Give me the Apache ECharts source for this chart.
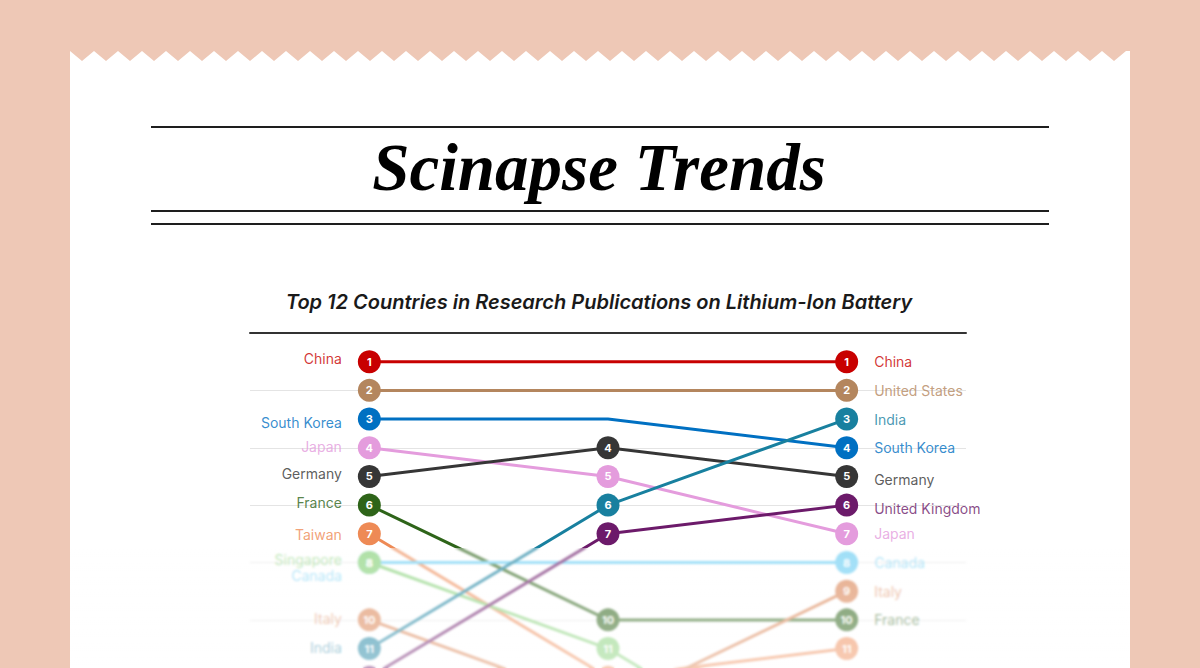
<!DOCTYPE html>
<html><head><meta charset="utf-8">
<script src="https://cdn.jsdelivr.net/npm/echarts@6/dist/echarts.min.js"></script>
<style>
html,body{margin:0;padding:0;width:1200px;height:668px;overflow:hidden;background:#EEC8B6;}
#paper{position:absolute;left:70px;top:51px;width:1060px;height:700px;background:#fff;}
#chart{position:absolute;left:0;top:0;width:1200px;height:900px;}
#fade{position:absolute;left:70px;top:548px;width:1060px;height:120px;
  background:linear-gradient(rgba(255,255,255,0.36),rgba(255,255,255,0.56));
  -webkit-backdrop-filter:blur(1.2px);backdrop-filter:blur(1.2px);}
</style></head>
<body>
<div id="paper"></div>
<div id="chart"></div>
<div id="fade"></div>
<script>
// ---- data ----
const periods = ['Period 1', 'Period 2', 'Period 3'];
const countries = ['China','United States','South Korea','Japan','Germany','France','Taiwan','Canada','Singapore','Italy','India','United Kingdom'];
const rankStart = [1, 2, 3, 4, 5, 6, 7, 8, 8, 10, 11, 12];
const rankMid   = [1, 2, 3, 5, 4, 10, 12, 8, 11, 13, 6, 7];
const rankEnd   = [1, 2, 4, 7, 5, 10, 11, 8, 16, 9, 3, 6];
const rankTicks = [0, 2, 4, 6, 8, 10, 12, 14, 16];

// ---- styles ----
const colors = {
  'China':'#C80000','United States':'#B4865E','South Korea':'#0070C2','Japan':'#E49CDD',
  'Germany':'#363636','France':'#2E6419','Taiwan':'#EE8A55','Canada':'#6ACDF3',
  'Singapore':'#84D076','Italy':'#D9804F','India':'#18809F','United Kingdom':'#6C1A6A'
};
const labelColors = Object.assign({}, colors, {'Germany':'#333333'});
const leftNudge  = {'China':-3,'South Korea':3,'Japan':-1,'Germany':-3,'France':-3,'Taiwan':1,'Singapore':-3,'Canada':13,'Italy':-1,'India':-1};
const rightNudge = {'Germany':3,'United Kingdom':3};
const hideLeftLabel = {'United States':true, 'United Kingdom':true};
const hideRightLabel = {'Taiwan':true, 'Singapore':true};
const lastVisibleRank = 11;

// paper zigzag top edge
(function(){
  const pts = [];
  const w = 1060, p = 24;
  for (let x = 0; x <= w; x += p/2) {
    const peak = Math.round(x / (p/2)) % 2 === 0;
    pts.push(x + 'px ' + (peak ? 0 : 10) + 'px');
  }
  pts.push(w + 'px 0px', w + 'px 100%', '0px 100%');
  document.getElementById('paper').style.clipPath = 'polygon(' + pts.join(',') + ')';
})();

const chart = echarts.init(document.getElementById('chart'), null, {renderer:'svg'});

const series = [];
countries.forEach((c, i) => {
  const col = colors[c];
  const ranks = [rankStart[i], rankMid[i], rankEnd[i]];
  series.push({
    type:'line', name:c, silent:true,
    symbol:'circle', symbolSize:23,
    lineStyle:{color:col, width:3},
    itemStyle:{color:col},
    label:{show:true, position:'inside', color:'#fff', fontSize:11, fontWeight:'bold', fontFamily:'Inter',
           formatter:p => p.value},
    emphasis:{disabled:true},
    data: ranks.map((r, k) => {
      if (k === 1 && rankMid[i] === rankStart[i]) {
        return {value:r, symbol:'none', label:{show:false}};
      }
      if (r > lastVisibleRank) return {value:r, label:{show:false}};
      return {value:r};
    })
  });
});

// country name labels at both ends
series.push({
  type:'scatter', silent:true, symbolSize:1, itemStyle:{color:'transparent'},
  z:5,
  label:{show:true, position:'left', distance:27, fontFamily:'Inter', fontSize:14, formatter:p => p.name},
  data: countries.filter(c => !hideLeftLabel[c]).map(c => {
    const i = countries.indexOf(c);
    return {name:c, value:[periods[0], rankStart[i]], label:{color:labelColors[c], offset:[0, leftNudge[c] || 0]}};
  })
});
series.push({
  type:'scatter', silent:true, symbolSize:1, itemStyle:{color:'transparent'},
  z:5,
  label:{show:true, position:'right', distance:27, fontFamily:'Inter', fontSize:14, formatter:p => p.name},
  data: countries.filter(c => !hideRightLabel[c]).map(c => {
    const i = countries.indexOf(c);
    return {name:c, value:[periods[2], rankEnd[i]], label:{color:labelColors[c], offset:[0, rightNudge[c] || 0]}};
  })
});

const rule = (y, x1, x2) => ({type:'line', shape:{x1:x1, y1:y, x2:x2, y2:y}, style:{stroke:'#1e1e1e', lineWidth:2}});

chart.setOption({
  animation:false,
  grid:{left:250, right:234, top:333, height:459},
  xAxis:{type:'category', data:periods, boundaryGap:true, position:'top',
    axisLine:{show:true, lineStyle:{color:'#333', width:2}}, axisTick:{show:false}, axisLabel:{show:false}, splitLine:{show:false}},
  yAxis:{type:'value', inverse:true, min:rankTicks[0], max:rankTicks[rankTicks.length-1], interval:2,
    axisLine:{show:false}, axisTick:{show:false}, axisLabel:{show:false},
    splitLine:{show:true, lineStyle:{color:'#e4e4e4', width:1}}},
  graphic:[
    rule(127, 151, 1049), rule(211, 151, 1049), rule(224, 151, 1049),
    {type:'text', x:599, y:167, style:{text:'Scinapse Trends', font:'italic bold 67px "Liberation Serif"', fill:'#000',
      align:'center', verticalAlign:'middle', textAlign:'center', textVerticalAlign:'middle'}},
    {type:'text', x:599, y:302, style:{text:'Top 12 Countries in Research Publications on Lithium-Ion Battery',
      font:'italic 600 20px Inter', fill:'#1a1a1a',
      align:'center', verticalAlign:'middle', textAlign:'center', textVerticalAlign:'middle'}}
  ],
  series:series
});
</script>
</body></html>
